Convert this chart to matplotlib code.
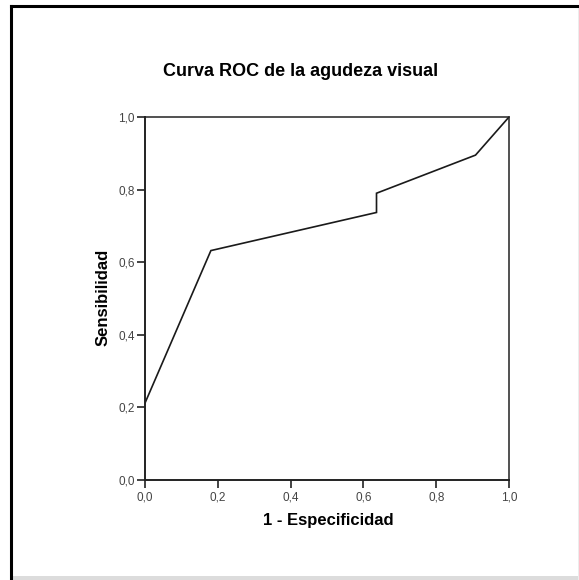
import matplotlib
matplotlib.use('Agg')
import matplotlib.pyplot as plt
from matplotlib.lines import Line2D
from matplotlib.patches import Rectangle

plt.rcParams['font.family'] = ['Liberation Sans', 'DejaVu Sans']

# puntos de la curva ROC (1 - especificidad, sensibilidad)
fpr = [0.0, 0.181, 0.636, 0.636, 0.908, 1.0]
tpr = [0.212, 0.632, 0.737, 0.790, 0.895, 1.0]
ticks = [0.0, 0.2, 0.4, 0.6, 0.8, 1.0]
tick_labels = ['0,0', '0,2', '0,4', '0,6', '0,8', '1,0']

W, H = 579, 580
fig = plt.figure(figsize=(W / 100, H / 100), dpi=100)

# marco exterior
fig.add_artist(Line2D([11 / W, 11 / W], [0, 1 - 6 / H], color='black', lw=2.2))
fig.add_artist(Line2D([11 / W, 1], [1 - 6 / H, 1 - 6 / H], color='black', lw=2.2))
fig.add_artist(Rectangle((12 / W, 0), 1, 4 / H, color='#dcdcdc', lw=0))
fig.add_artist(Rectangle((1 - 1.5 / W, 0), 1.5 / W, 1 - 7 / H, color='#ececec', lw=0))

ax = fig.add_axes([145 / W, 100 / H, 364 / W, 363 / H])
ax.plot(fpr, tpr, color='#1a1a1a', lw=1.2, solid_joinstyle='miter')
ax.set_xlim(0, 1)
ax.set_ylim(0, 1)
ax.set_xticks(ticks)
ax.set_xticklabels(tick_labels)
ax.set_yticks(ticks)
ax.set_yticklabels(tick_labels)
ax.tick_params(direction='out', length=5.5, width=1.2, pad=2,
               labelsize=8.5, labelcolor='#444444', color='#222222')
ax.tick_params(axis='x', pad=3)
for s in ['left', 'bottom']:
    ax.spines[s].set_linewidth(1.4)
    ax.spines[s].set_color('#222222')
for s in ['top', 'right']:
    ax.spines[s].set_linewidth(1.1)
    ax.spines[s].set_color('#222222')

fig.text(301 / W, 1 - 71 / H, 'Curva ROC de la agudeza visual',
         ha='center', va='center', fontsize=13, fontweight='bold')
fig.text(328 / W, 1 - 520 / H, '1 - Especificidad',
         ha='center', va='center', fontsize=12, fontweight='bold')
fig.text(103 / W, 1 - 297 / H, 'Sensibilidad', rotation=90,
         ha='center', va='center', fontsize=12, fontweight='bold')

fig.savefig('out.png', dpi=100)
